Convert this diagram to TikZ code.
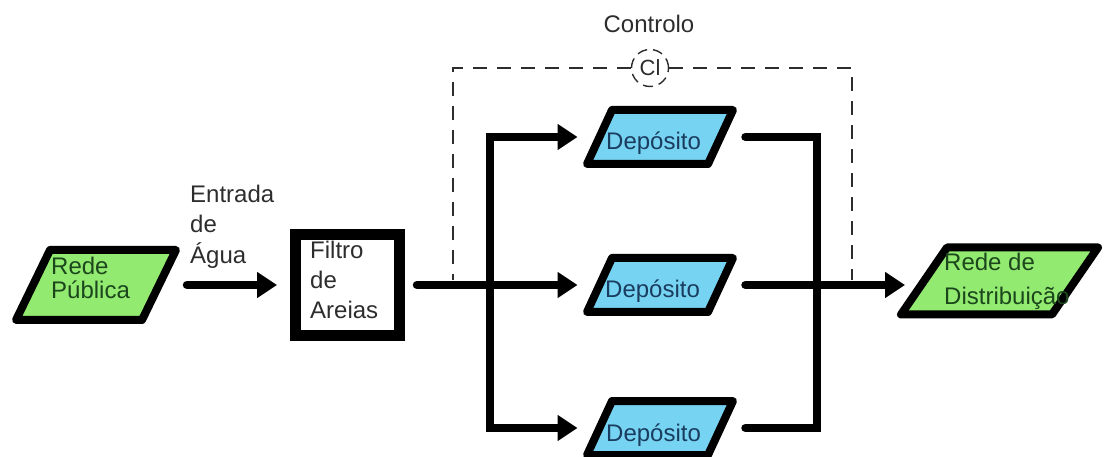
\documentclass[tikz,border=0pt]{standalone}
\usepackage{fontspec}
\setmainfont{Liberation Sans}
\usetikzlibrary{arrows.meta}
\definecolor{netgreen}{RGB}{146,234,112}
\definecolor{tankblue}{RGB}{118,212,242}
\definecolor{labelgray}{RGB}{45,45,45}
\definecolor{greentext}{RGB}{28,70,28}
\definecolor{bluetext}{RGB}{26,60,95}
% \skewbox{node}{half skew}{fill colour}: parallelogram on a rectangle node,
% whose east/west anchors sit at mid-height of the slanted sides
\newcommand\skewbox[3]{%
  \filldraw[fill=#3, draw=black, line width=8pt, line join=round]
    ([xshift=#2]#1.north west) -- ([xshift=#2]#1.north east)
    -- ([xshift=-#2]#1.south east) -- ([xshift=-#2]#1.south west) -- cycle;}
\begin{document}
\begin{tikzpicture}[x=1pt,y=-1pt,
  slot/.style={rectangle, draw=none, inner sep=0pt, outer sep=0pt},
  tankslot/.style={slot, minimum width=121pt, minimum height=54pt},
  filterbox/.style={draw=black, fill=white, line width=11pt, inner sep=0pt,
    minimum width=104pt, minimum height=101pt},
  txt/.style={font=\fontsize{24}{30}\selectfont, text=labelgray, inner sep=0pt, align=left},
  nettxt/.style={txt, text=greentext},
  tanktxt/.style={txt, text=bluetext},
  pipe/.style={line width=8.5pt, line cap=round, line join=miter},
  flow/.style={pipe, -{Triangle[length=20pt,width=25pt]}},
  ctrl/.style={draw=labelgray, line width=1.4pt, dash pattern=on 14pt off 10pt}
]
\useasboundingbox (0,0) rectangle (1104,457);

% source, filter, tanks and distribution
\node[slot, minimum width=126pt, minimum height=70pt] (rp) at (96,285) {};
\skewbox{rp}{17pt}{netgreen}
\node[filterbox] (filt) at (347.5,285) {};
\node[tankslot] (d1) at (660,137) {};
\node[tankslot] (d2) at (660,285) {};
\node[tankslot] (d3) at (660,428) {};
\skewbox{d1}{12.5pt}{tankblue}
\skewbox{d2}{12.5pt}{tankblue}
\skewbox{d3}{12.5pt}{tankblue}
\node[slot, minimum width=151pt, minimum height=67pt] (rd) at (999.5,281) {};
\skewbox{rd}{23pt}{netgreen}

% texts
\node[nettxt, anchor=north west, font=\fontsize{24}{24}\selectfont] (rp-t) at (51,257) {Rede\\Pública};
\node[txt, anchor=north west, font=\fontsize{24}{30.5}\selectfont] (inlet) at (190,184.5) {Entrada\\de\\Água};
\node[txt, anchor=north west] (filt-t) at (310,240.5) {Filtro\\de\\Areias};
\node[tanktxt, anchor=base west] (d1-t) at (606,150) {Depósito};
\node[tanktxt, anchor=base west] (d2-t) at (605,298) {Depósito};
\node[tanktxt, anchor=base west] (d3-t) at (606,441) {Depósito};
\node[nettxt, anchor=north west, font=\fontsize{24}{34}\selectfont] (rd-t) at (944,252.5) {Rede de\\Distribuição};

% chlorine control loop
\node[txt, anchor=base] (ctrl-t) at (649,33) {Controlo};
\node[circle, ctrl, draw, dash pattern=on 10pt off 6pt, minimum size=37pt, inner sep=0pt,
  font=\fontsize{22}{25}\selectfont, text=labelgray] (cl) at (650,68) {Cl};
\coordinate (ctrl-l) at (453,280);
\coordinate (ctrl-r) at (852,280);
\draw[ctrl] (cl.west) -| (ctrl-l);
\draw[ctrl] (cl.east) -| (ctrl-r);

% pipework
\coordinate (split) at (490,285);
\coordinate (merge) at (817,285);
\draw[flow, shorten <=28pt, shorten >=13pt] (rp.east) -- (filt.west);
\draw[flow, shorten <=12pt, shorten >=22pt] (filt.east) -- (d2.west);
\draw[flow, shorten >=22pt] (split) |- (d1.west);
\draw[flow, shorten >=22pt] (split) |- (d3.west);
\draw[pipe, shorten <=25pt, shorten >=25pt] (d1.east) -| (merge) |- (d3.east);
\draw[flow, shorten <=25pt, shorten >=19pt] (d2.east) -- (d2.east -| rd.west);
\end{tikzpicture}
\end{document}
